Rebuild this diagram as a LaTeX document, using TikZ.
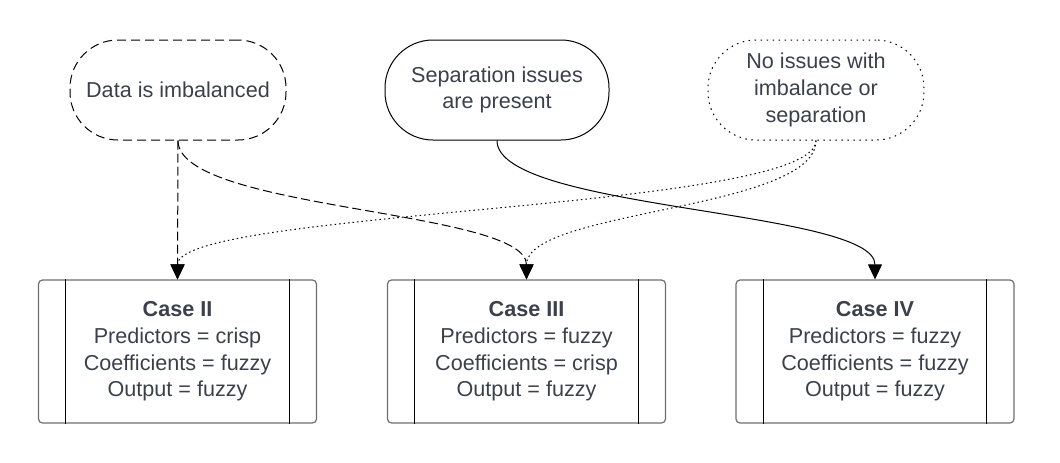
\documentclass[tikz,border=0pt]{standalone}
\usepackage{fontspec}
\setmainfont{Liberation Sans}
\usetikzlibrary{arrows.meta}
\definecolor{txt}{HTML}{3A414A}
\definecolor{edge}{HTML}{6E6E6E}

\begin{document}
\begin{tikzpicture}[x=1pt,y=-1pt,
  cond/.style={draw=black, line width=1pt, rounded corners=48pt, minimum width=216pt, minimum height=100pt, align=center, text=txt, font=\fontsize{21.6}{26.7}\selectfont},
  casebox/.style={draw=edge, line width=1.2pt, rounded corners=4pt, minimum width=278pt, minimum height=143pt, align=center, text=txt, font=\fontsize{21.6}{26.7}\selectfont},
  link/.style={line width=1pt, -{Triangle[length=15pt,width=14pt]}},
  dashlink/.style={link, dash pattern=on 9pt off 4pt},
  dotlink/.style={link, dash pattern=on 1.5pt off 3pt}]
\useasboundingbox (0,0) rectangle (1060,463);
% conditions
\node[cond, dash pattern=on 9pt off 5pt] (imb) at (178,90) {Data is imbalanced};
\node[cond, minimum width=224pt] (sep) at (497,90) {Separation issues\\are present};
\node[cond, dash pattern=on 1.5pt off 4.5pt] (none) at (816,90) {No issues with\\imbalance or\\separation};
% cases
\node[casebox] (c2) at (177.5,351.5) {\textbf{Case II}\\Predictors = crisp\\Coefficients = fuzzy\\Output = fuzzy};
\node[casebox] (c3) at (526.5,351.5) {\textbf{Case III}\\Predictors = fuzzy\\Coefficients = crisp\\Output = fuzzy};
\node[casebox] (c4) at (875,351.5) {\textbf{Case IV}\\Predictors = fuzzy\\Coefficients = fuzzy\\Output = fuzzy};
\foreach \c in {c2,c3,c4} {
  \draw[line width=1pt] ([xshift=28pt]\c.north west) -- ([xshift=28pt]\c.south west);
  \draw[line width=1pt] ([xshift=-28pt]\c.north east) -- ([xshift=-28pt]\c.south east);
}
% links
\draw[dashlink] (imb.south) -- (c2.north);
\draw[dashlink] (imb.south) .. controls +(0,70) and +(0,-70) .. (c3.north);
\draw[link] (sep.south) .. controls +(0,70) and +(0,-70) .. (c4.north);
\draw[dotlink] (none.south) .. controls +(0,70) and +(0,-70) .. (c2.north);
\draw[dotlink] (none.south) .. controls +(0,70) and +(0,-70) .. (c3.north);
\end{tikzpicture}
\end{document}
